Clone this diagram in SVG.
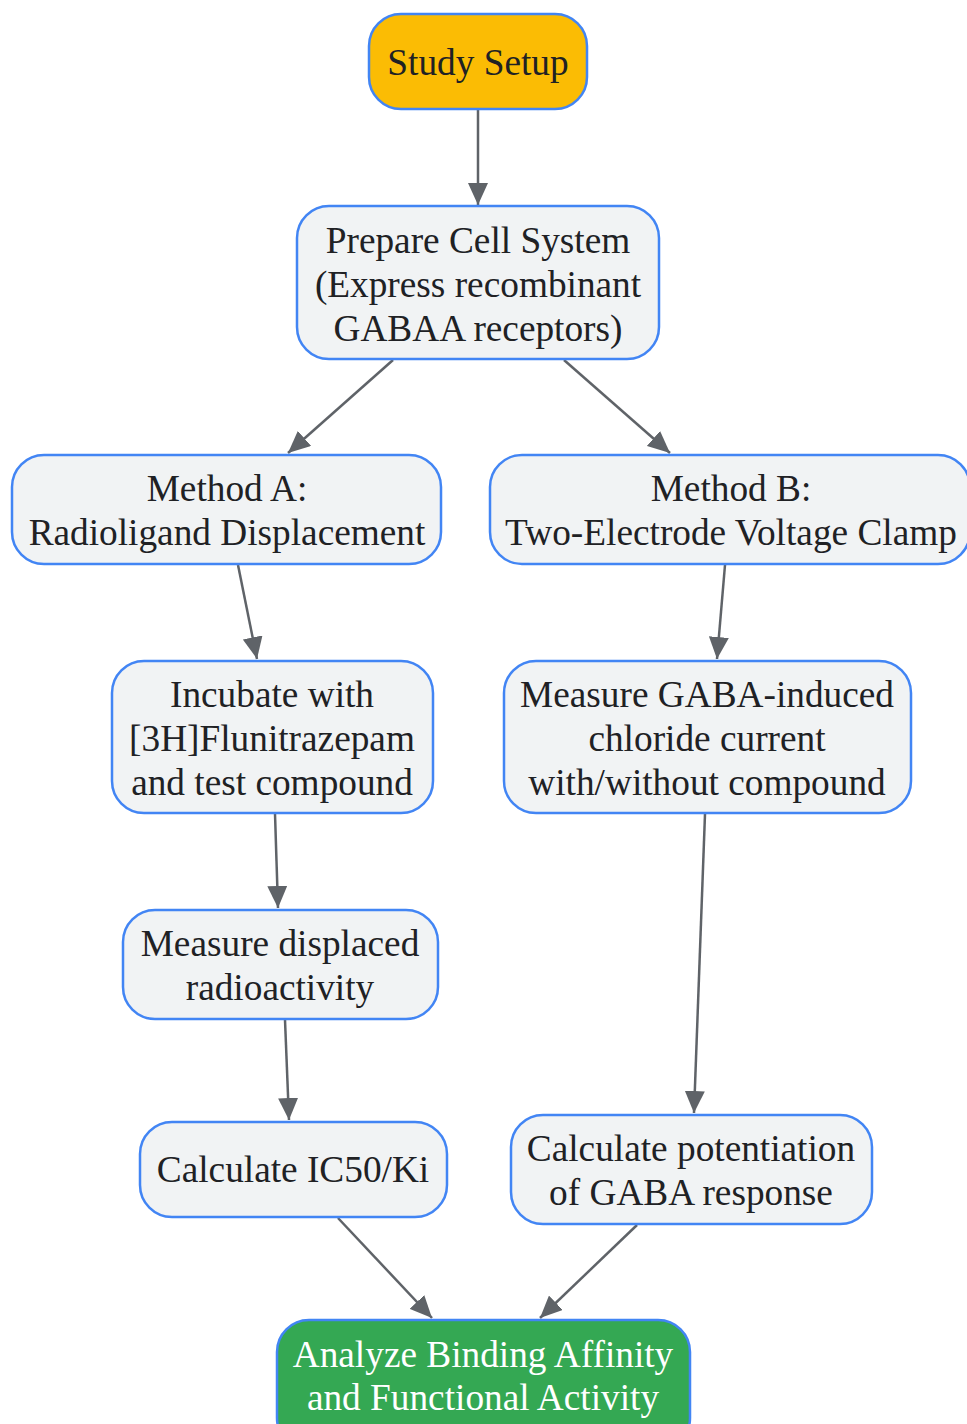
<svg xmlns="http://www.w3.org/2000/svg" width="967" height="1424" viewBox="0 0 967 1424">
<style>
.n rect{fill:#f1f3f4;stroke:#4285f4;stroke-width:2.5}
.n text{font-family:"Liberation Serif","Times New Roman",serif;font-size:37.3px;fill:#202124;text-anchor:middle}
.e line{stroke:#5f6368;stroke-width:2.5;marker-end:url(#arr)}
</style>
<defs>
<marker id="arr" markerUnits="userSpaceOnUse" markerWidth="24" markerHeight="20" refX="22" refY="10" orient="auto">
<path d="M0,0 L22,10 L0,20 Z" fill="#5f6368"/>
</marker>
</defs>
<rect width="967" height="1424" fill="#ffffff"/>
<g id="connectors" class="e">
<line x1="478" y1="109" x2="478" y2="205"/>
<line x1="393" y1="360" x2="288" y2="453"/>
<line x1="564" y1="360" x2="670" y2="453"/>
<line x1="238" y1="565" x2="257" y2="659"/>
<line x1="725" y1="565" x2="717" y2="659"/>
<line x1="275" y1="814" x2="278" y2="908"/>
<line x1="705" y1="814" x2="694" y2="1113"/>
<line x1="285" y1="1020" x2="289" y2="1120"/>
<line x1="338" y1="1218" x2="432" y2="1318"/>
<line x1="637" y1="1225" x2="540" y2="1318"/>
</g>
<g id="n1" class="n"><rect x="369" y="14" width="218" height="95" rx="32" style="fill:#fbbc04"/><text x="478" y="75">Study Setup</text></g>
<g id="n2" class="n"><rect x="297" y="206" width="362" height="153" rx="32"/><text x="478" y="253">Prepare Cell System</text><text x="478" y="297">(Express recombinant</text><text x="478" y="341">GABAA receptors)</text></g>
<g id="n3" class="n"><rect x="12" y="455" width="429" height="109" rx="32"/><text x="227" y="501">Method A:</text><text x="227" y="545">Radioligand Displacement</text></g>
<g id="n4" class="n"><rect x="490" y="455" width="480" height="109" rx="32"/><text x="731" y="501">Method B:</text><text x="731" y="545">Two-Electrode Voltage Clamp</text></g>
<g id="n5" class="n"><rect x="112" y="661" width="321" height="152" rx="32"/><text x="272" y="707">Incubate with</text><text x="272" y="751">[3H]Flunitrazepam</text><text x="272" y="795">and test compound</text></g>
<g id="n6" class="n"><rect x="504" y="661" width="407" height="152" rx="32"/><text x="707" y="707">Measure GABA-induced</text><text x="707" y="751">chloride current</text><text x="707" y="795">with/without compound</text></g>
<g id="n7" class="n"><rect x="123" y="910" width="315" height="109" rx="32"/><text x="280" y="956">Measure displaced</text><text x="280" y="1000">radioactivity</text></g>
<g id="n8" class="n"><rect x="140" y="1122" width="307" height="95" rx="32"/><text x="293" y="1182">Calculate IC50/Ki</text></g>
<g id="n9" class="n"><rect x="511" y="1115" width="361" height="109" rx="32"/><text x="691" y="1161">Calculate potentiation</text><text x="691" y="1205">of GABA response</text></g>
<g id="n10" class="n"><rect x="277" y="1320" width="413" height="130" rx="32" style="fill:#34a853"/><text x="483" y="1367" style="fill:#ffffff">Analyze Binding Affinity</text><text x="483" y="1410" style="fill:#ffffff">and Functional Activity</text></g>
</svg>
